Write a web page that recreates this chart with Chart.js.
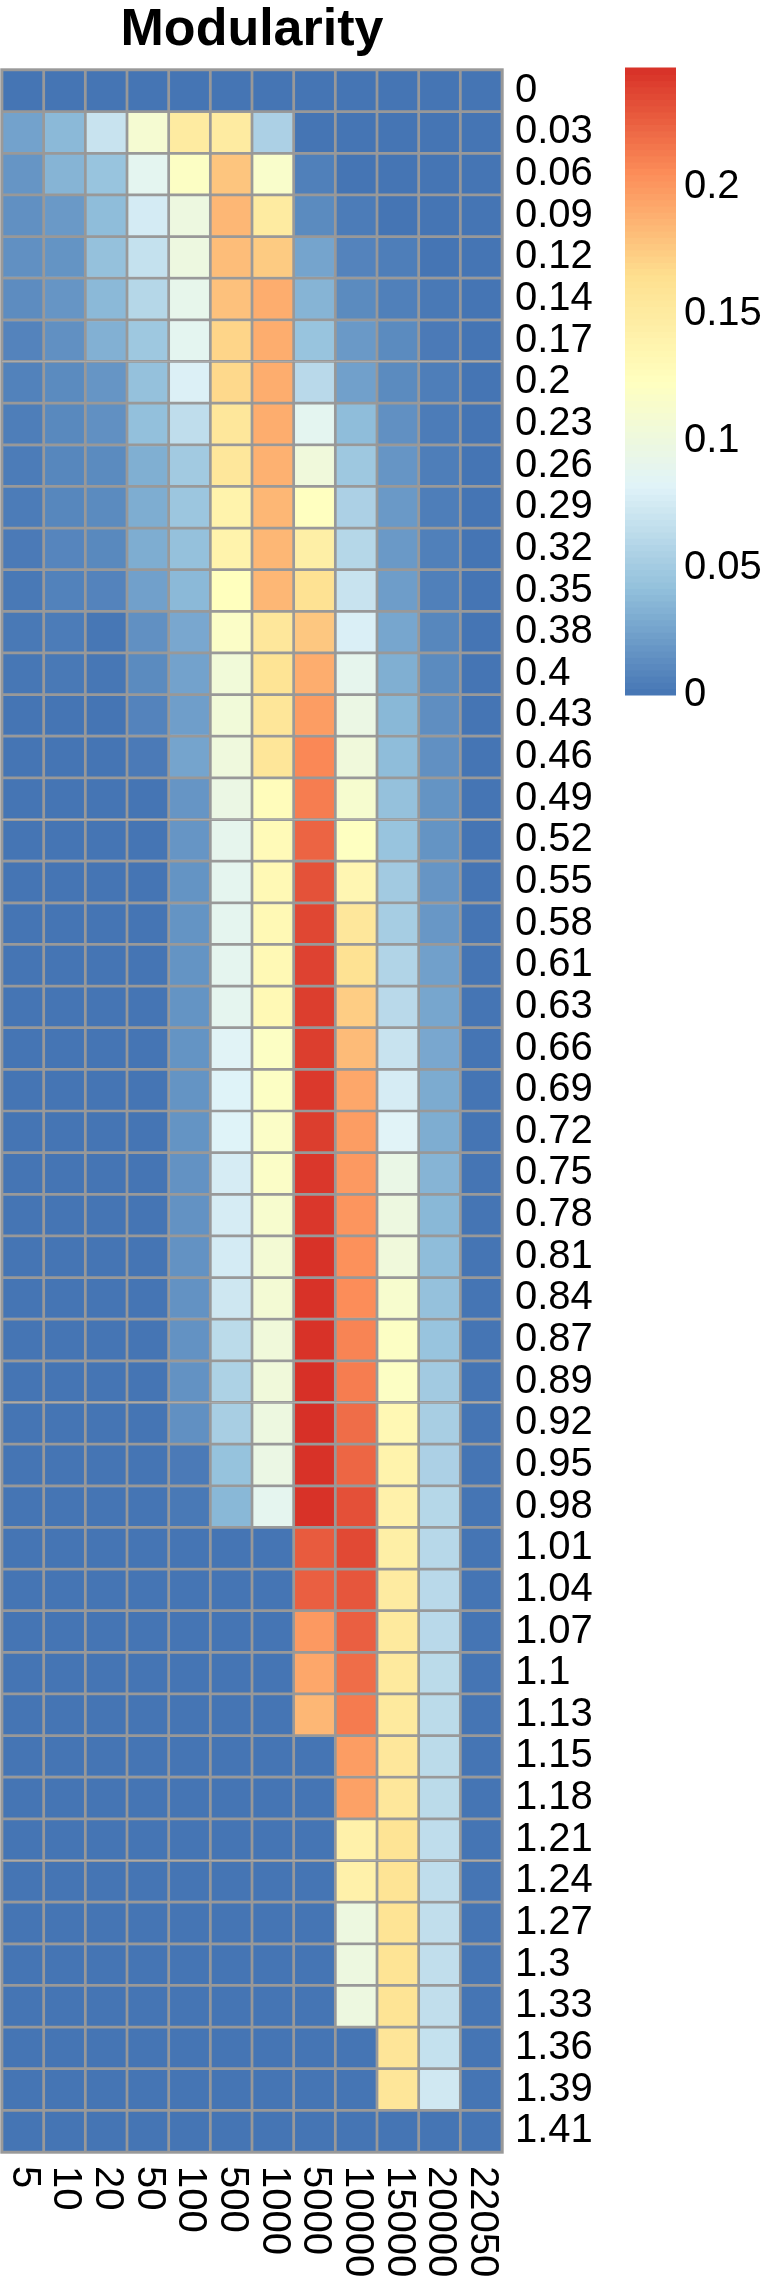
<!DOCTYPE html>
<html>
<head>
<meta charset="utf-8">
<title>Modularity</title>
<script src="https://cdn.jsdelivr.net/npm/chart.js@4/dist/chart.umd.min.js"></script>
<style>
  body { margin: 0; background: #fff; }
  #wrap { width: 762px; height: 2280px; position: relative; }
</style>
</head>
<body>
<div id="wrap"><canvas id="heat"></canvas></div>
<script>
// column / row labels
const colLabels = ['5', '10', '20', '50', '100', '500', '1000', '5000', '10000', '15000', '20000', '22050'];
const rowLabels = ['0', '0.03', '0.06', '0.09', '0.12', '0.14', '0.17', '0.2', '0.23', '0.26',
  '0.29', '0.32', '0.35', '0.38', '0.4', '0.43', '0.46', '0.49', '0.52', '0.55',
  '0.58', '0.61', '0.63', '0.66', '0.69', '0.72', '0.75', '0.78', '0.81', '0.84',
  '0.87', '0.89', '0.92', '0.95', '0.98', '1.01', '1.04', '1.07', '1.1', '1.13',
  '1.15', '1.18', '1.21', '1.24', '1.27', '1.3', '1.33', '1.36', '1.39', '1.41'];

// one row per resolution, one value per column
const modularity = [
  [0, 0, 0, 0, 0, 0, 0, 0, 0, 0, 0, 0],
  [0.025, 0.038, 0.07, 0.11, 0.15, 0.15, 0.055, 0, 0, 0, 0, 0],
  [0.018, 0.035, 0.045, 0.088, 0.12, 0.178, 0.115, 0.006, 0, 0, 0, 0],
  [0.015, 0.02, 0.04, 0.076, 0.1, 0.185, 0.15, 0.012, 0.004, 0, 0, 0],
  [0.015, 0.017, 0.043, 0.068, 0.1, 0.182, 0.175, 0.026, 0.008, 0.005, 0, 0],
  [0.013, 0.018, 0.038, 0.06, 0.092, 0.18, 0.19, 0.035, 0.012, 0.006, 0.002, 0],
  [0.008, 0.015, 0.033, 0.048, 0.088, 0.17, 0.19, 0.045, 0.02, 0.012, 0.003, 0],
  [0.007, 0.012, 0.018, 0.043, 0.08, 0.168, 0.19, 0.062, 0.024, 0.012, 0.005, 0],
  [0.005, 0.011, 0.015, 0.042, 0.065, 0.155, 0.19, 0.088, 0.04, 0.015, 0.004, 0],
  [0.004, 0.01, 0.012, 0.032, 0.05, 0.155, 0.188, 0.103, 0.048, 0.018, 0.005, 0],
  [0.004, 0.01, 0.012, 0.031, 0.047, 0.14, 0.185, 0.123, 0.055, 0.02, 0.005, 0],
  [0.003, 0.009, 0.011, 0.031, 0.043, 0.14, 0.185, 0.145, 0.06, 0.02, 0.006, 0],
  [0.002, 0.007, 0.008, 0.024, 0.038, 0.124, 0.185, 0.162, 0.07, 0.022, 0.006, 0],
  [0.002, 0.004, 0.001, 0.015, 0.028, 0.118, 0.155, 0.177, 0.079, 0.027, 0.01, 0],
  [0.001, 0.002, 0.001, 0.012, 0.025, 0.105, 0.16, 0.19, 0.09, 0.032, 0.012, 0],
  [0, 0, 0, 0.008, 0.023, 0.105, 0.157, 0.198, 0.097, 0.037, 0.014, 0],
  [0, 0, 0, 0.003, 0.026, 0.102, 0.157, 0.208, 0.103, 0.04, 0.015, 0],
  [0, 0, 0, 0, 0.018, 0.097, 0.127, 0.213, 0.112, 0.043, 0.017, 0],
  [0, 0, 0, 0, 0.018, 0.09, 0.13, 0.224, 0.122, 0.045, 0.017, 0],
  [0, 0, 0, 0, 0.017, 0.089, 0.132, 0.232, 0.135, 0.05, 0.018, 0],
  [0, 0, 0, 0, 0.017, 0.089, 0.132, 0.237, 0.155, 0.052, 0.019, 0],
  [0, 0, 0, 0, 0.017, 0.089, 0.132, 0.239, 0.162, 0.058, 0.024, 0],
  [0, 0, 0, 0, 0.017, 0.089, 0.132, 0.241, 0.174, 0.062, 0.027, 0],
  [0, 0, 0, 0, 0.017, 0.084, 0.12, 0.241, 0.183, 0.07, 0.028, 0],
  [0, 0, 0, 0, 0.017, 0.082, 0.12, 0.243, 0.193, 0.077, 0.03, 0],
  [0, 0, 0, 0, 0.017, 0.082, 0.118, 0.241, 0.198, 0.083, 0.031, 0],
  [0, 0, 0, 0, 0.016, 0.077, 0.118, 0.244, 0.2, 0.095, 0.035, 0],
  [0, 0, 0, 0, 0.016, 0.077, 0.113, 0.244, 0.202, 0.1, 0.037, 0],
  [0, 0, 0, 0, 0.016, 0.076, 0.108, 0.246, 0.204, 0.103, 0.04, 0],
  [0, 0, 0, 0, 0.016, 0.073, 0.108, 0.246, 0.206, 0.113, 0.043, 0],
  [0, 0, 0, 0, 0.016, 0.063, 0.104, 0.246, 0.21, 0.12, 0.045, 0],
  [0, 0, 0, 0, 0.016, 0.056, 0.104, 0.247, 0.213, 0.12, 0.05, 0],
  [0, 0, 0, 0, 0.015, 0.053, 0.1, 0.247, 0.22, 0.133, 0.053, 0],
  [0, 0, 0, 0, 0.003, 0.044, 0.097, 0.246, 0.223, 0.14, 0.055, 0],
  [0, 0, 0, 0, 0.002, 0.037, 0.089, 0.246, 0.233, 0.142, 0.06, 0],
  [0, 0, 0, 0, 0, 0, 0, 0.228, 0.236, 0.145, 0.061, 0],
  [0, 0, 0, 0, 0, 0, 0, 0.226, 0.23, 0.15, 0.062, 0],
  [0, 0, 0, 0, 0, 0, 0, 0.2, 0.226, 0.152, 0.062, 0],
  [0, 0, 0, 0, 0, 0, 0, 0.193, 0.22, 0.152, 0.063, 0],
  [0, 0, 0, 0, 0, 0, 0, 0.185, 0.214, 0.152, 0.063, 0],
  [0, 0, 0, 0, 0, 0, 0, 0, 0.198, 0.155, 0.063, 0],
  [0, 0, 0, 0, 0, 0, 0, 0, 0.196, 0.155, 0.063, 0],
  [0, 0, 0, 0, 0, 0, 0, 0, 0.142, 0.16, 0.065, 0],
  [0, 0, 0, 0, 0, 0, 0, 0, 0.142, 0.16, 0.065, 0],
  [0, 0, 0, 0, 0, 0, 0, 0, 0.1, 0.16, 0.066, 0],
  [0, 0, 0, 0, 0, 0, 0, 0, 0.1, 0.16, 0.066, 0],
  [0, 0, 0, 0, 0, 0, 0, 0, 0.1, 0.16, 0.066, 0],
  [0, 0, 0, 0, 0, 0, 0, 0, 0, 0.158, 0.068, 0],
  [0, 0, 0, 0, 0, 0, 0, 0, 0, 0.157, 0.074, 0],
  [0, 0, 0, 0, 0, 0, 0, 0, 0, 0, 0, 0]
];

const legendTicks = [0, 0.05, 0.1, 0.15, 0.2];
const palette = ['#4575B4', '#91BFDB', '#E0F3F8', '#FFFFBF', '#FEE090', '#FC8D59', '#D73027'];

const FONT = '"Liberation Sans", Arial, Helvetica, sans-serif';
const vmin = 0;
const vmax = Math.max(...modularity.flat());

function hexRgb(h) {
  return [parseInt(h.slice(1, 3), 16), parseInt(h.slice(3, 5), 16), parseInt(h.slice(5, 7), 16)];
}
const stops = palette.map(hexRgb);

function colour(v) {
  var f = (v - vmin) / (vmax - vmin);
  f = Math.max(0, Math.min(1, f));
  var p = f * (stops.length - 1);
  var i = Math.min(Math.floor(p), stops.length - 2);
  var t = p - i;
  var a = stops[i], b = stops[i + 1];
  var c = [0, 1, 2].map(k => Math.round(a[k] + (b[k] - a[k]) * t));
  return `rgb(${c[0]}, ${c[1]}, ${c[2]})`;
}

// one dataset per column, each row is a floating bar spanning that column
const datasets = colLabels.map((lab, c) => ({
  label: lab,
  data: rowLabels.map(() => [c, c + 1]),
  backgroundColor: modularity.map(row => colour(row[c])),
  borderColor: '#999999',
  borderWidth: 1.7,
  borderSkipped: false,
  grouped: false,
  barPercentage: 1,
  categoryPercentage: 1
}));

// title, rotated column labels, outer frame and the colour key
const extras = {
  id: 'extras',
  afterDatasetsDraw(chart) {
    const ctx = chart.ctx;
    const area = chart.chartArea;
    const xs = chart.scales.x;
    ctx.save();

    // frame
    ctx.strokeStyle = '#999999';
    ctx.lineWidth = 1.7;
    ctx.strokeRect(area.left - 0.85, area.top - 0.85, area.right - area.left + 1.7, area.bottom - area.top + 1.7);

    // title
    ctx.fillStyle = '#000';
    ctx.font = 'bold 52px ' + FONT;
    ctx.textAlign = 'center';
    ctx.textBaseline = 'alphabetic';
    ctx.fillText('Modularity', (area.left + area.right) / 2, 45);

    // column labels, read top to bottom
    ctx.font = '40px ' + FONT;
    ctx.textAlign = 'left';
    ctx.textBaseline = 'middle';
    colLabels.forEach((lab, c) => {
      ctx.save();
      ctx.translate(xs.getPixelForValue(c + 0.5) + 1, area.bottom + 14);
      ctx.rotate(Math.PI / 2);
      ctx.fillText(lab, 0, 0);
      ctx.restore();
    });

    // colour key
    const kx = 625, kw = 51, ktop = 68, kbot = 695;
    const n = 100;
    const h = (kbot - ktop) / n;
    for (var i = 0; i < n; i++) {
      const v = vmin + (vmax - vmin) * (i + 0.5) / n;
      ctx.fillStyle = colour(v);
      ctx.fillRect(kx, kbot - (i + 1) * h - 0.5, kw, h + 1);
    }
    ctx.fillStyle = '#000';
    ctx.textAlign = 'left';
    ctx.textBaseline = 'middle';
    legendTicks.forEach(t => {
      const y = kbot - (t - vmin) / (vmax - vmin) * (kbot - ktop);
      ctx.fillText(String(t), kx + kw + 8, y);
    });

    ctx.restore();
  }
};

new Chart(document.getElementById('heat'), {
  type: 'bar',
  data: { labels: rowLabels, datasets: datasets },
  options: {
    indexAxis: 'y',
    responsive: true,
    maintainAspectRatio: false,
    animation: false,
    layout: { padding: { top: 70, bottom: 128, left: 2, right: 0 } },
    plugins: { legend: { display: false }, tooltip: { enabled: false }, title: { display: false } },
    scales: {
      x: { type: 'linear', min: 0, max: colLabels.length, display: false },
      y: {
        type: 'category',
        position: 'right',
        offset: true,
        grid: { display: false, drawTicks: false },
        border: { display: false },
        ticks: { autoSkip: false, color: '#000', padding: 13, font: { family: FONT, size: 40 } },
        afterFit(scale) { scale.width = 260; }
      }
    }
  },
  plugins: [extras]
});
</script>
</body>
</html>
